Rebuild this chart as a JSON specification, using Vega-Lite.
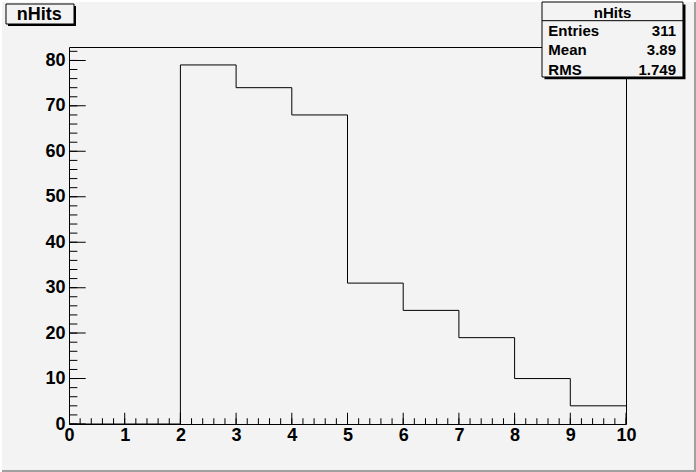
{
  "$schema": "https://vega.github.io/schema/vega-lite/v6.json",
  "width": 557,
  "height": 377,
  "autosize": {"type": "none"},
  "padding": {"left": 69, "top": 47, "right": 70, "bottom": 48},
  "background": "#f3f3f3",
  "config": {
    "view": {"stroke": "#000000", "strokeWidth": 1},
    "font": "Liberation Sans",
    "axis": {"labelFont": "Liberation Sans", "labelFontWeight": "bold", "labelFontSize": 18, "labelColor": "#000000", "ticks": false, "domain": false, "grid": false, "labelFlush": false, "labelOverlap": false}
  },
  "resolve": {"axis": {"x": "independent", "y": "independent"}},
  "data": {"values": [{}]},
  "datasets": {
    "hist": [
      {"lo": 0, "hi": 1, "count": 0},
      {"lo": 1, "hi": 2, "count": 0},
      {"lo": 2, "hi": 3, "count": 79},
      {"lo": 3, "hi": 4, "count": 74},
      {"lo": 4, "hi": 5, "count": 68},
      {"lo": 5, "hi": 6, "count": 31},
      {"lo": 6, "hi": 7, "count": 25},
      {"lo": 7, "hi": 8, "count": 19},
      {"lo": 8, "hi": 9, "count": 10},
      {"lo": 9, "hi": 10, "count": 4}
    ],
    "xmajor": [0, 1, 2, 3, 4, 5, 6, 7, 8, 9, 10],
    "xminor": [0, 0.2, 0.4, 0.6, 0.8, 1, 1.2, 1.4, 1.6, 1.8, 2, 2.2, 2.4, 2.6, 2.8, 3, 3.2, 3.4, 3.6, 3.8, 4, 4.2, 4.4, 4.6, 4.8, 5, 5.2, 5.4, 5.6, 5.8, 6, 6.2, 6.4, 6.6, 6.8, 7, 7.2, 7.4, 7.6, 7.8, 8, 8.2, 8.4, 8.6, 8.8, 9, 9.2, 9.4, 9.6, 9.8, 10],
    "ymajor": [0, 10, 20, 30, 40, 50, 60, 70, 80],
    "yminor": [0, 2, 4, 6, 8, 10, 12, 14, 16, 18, 20, 22, 24, 26, 28, 30, 32, 34, 36, 38, 40, 42, 44, 46, 48, 50, 52, 54, 56, 58, 60, 62, 64, 66, 68, 70, 72, 74, 76, 78, 80, 82]
  },
  "layer": [
    {
      "data": {"name": "hist"},
      "mark": {"type": "rule", "color": "#000000", "strokeWidth": 1},
      "encoding": {
        "x": {"field": "lo", "type": "quantitative", "title": null, "scale": {"domain": [0, 10], "nice": false, "zero": false},
              "axis": {"orient": "bottom", "values": [0, 1, 2, 3, 4, 5, 6, 7, 8, 9, 10], "labelPadding": 2, "format": "d", "ticks": false, "domain": false, "grid": false}},
        "x2": {"field": "hi"},
        "y": {"field": "count", "type": "quantitative", "title": null, "scale": {"domain": [0, 82.95], "nice": false, "zero": false},
              "axis": {"orient": "left", "values": [0, 10, 20, 30, 40, 50, 60, 70, 80], "labelPadding": 4, "format": "d", "ticks": false, "domain": false, "grid": false}}
      }
    },
    {
      "mark": {"type": "rect", "color": "#ffffff"},
      "encoding": {
        "x": {"datum": -1.2388, "type": "quantitative", "axis": null, "scale": {"domain": [0, 10], "nice": false, "zero": false}},
        "x2": {"datum": 11.257},
        "y": {"datum": 93.29, "type": "quantitative", "axis": null, "scale": {"domain": [0, 82.95], "nice": false, "zero": false}},
        "y2": {"datum": 92.85}
      }
    },
    {
      "mark": {"type": "rect", "color": "#ffffff"},
      "encoding": {
        "x": {"datum": -1.2388, "type": "quantitative", "axis": null, "scale": {"domain": [0, 10], "nice": false, "zero": false}},
        "x2": {"datum": -1.2029},
        "y": {"datum": 93.29, "type": "quantitative", "axis": null, "scale": {"domain": [0, 82.95], "nice": false, "zero": false}},
        "y2": {"datum": -10.56}
      }
    },
    {
      "mark": {"type": "rect", "color": "#a0a0a0"},
      "encoding": {
        "x": {"datum": 11.221, "type": "quantitative", "axis": null, "scale": {"domain": [0, 10], "nice": false, "zero": false}},
        "x2": {"datum": 11.257},
        "y": {"datum": 92.85, "type": "quantitative", "axis": null, "scale": {"domain": [0, 82.95], "nice": false, "zero": false}},
        "y2": {"datum": -10.56}
      }
    },
    {
      "mark": {"type": "rect", "color": "#a0a0a0"},
      "encoding": {
        "x": {"datum": -1.2029, "type": "quantitative", "axis": null, "scale": {"domain": [0, 10], "nice": false, "zero": false}},
        "x2": {"datum": 11.257},
        "y": {"datum": -10.121, "type": "quantitative", "axis": null, "scale": {"domain": [0, 82.95], "nice": false, "zero": false}},
        "y2": {"datum": -10.56}
      }
    },
    {
      "data": {"name": "hist"},
      "transform": [
        {"window": [{"op": "lag", "field": "count", "as": "prev"}], "sort": [{"field": "lo"}]},
        {"filter": "datum.prev != null"}
      ],
      "mark": {"type": "rule", "color": "#000000", "strokeWidth": 1},
      "encoding": {
        "x": {"field": "lo", "type": "quantitative", "axis": null, "scale": {"domain": [0, 10], "nice": false, "zero": false}},
        "y": {"field": "count", "type": "quantitative", "axis": null, "scale": {"domain": [0, 82.95], "nice": false, "zero": false}},
        "y2": {"field": "prev"}
      }
    },
    {
      "data": {"name": "xmajor"},
      "mark": {"type": "tick", "orient": "vertical", "size": 22.6, "thickness": 1, "color": "#000000", "opacity": 1, "clip": true},
      "encoding": {
        "x": {"field": "data", "type": "quantitative", "axis": null, "scale": {"domain": [0, 10], "nice": false, "zero": false}},
        "y": {"datum": 0, "type": "quantitative", "axis": null, "scale": {"domain": [0, 82.95], "nice": false, "zero": false}}
      }
    },
    {
      "data": {"name": "xminor"},
      "mark": {"type": "tick", "orient": "vertical", "size": 11.3, "thickness": 1, "color": "#000000", "opacity": 1, "clip": true},
      "encoding": {
        "x": {"field": "data", "type": "quantitative", "axis": null, "scale": {"domain": [0, 10], "nice": false, "zero": false}},
        "y": {"datum": 0, "type": "quantitative", "axis": null, "scale": {"domain": [0, 82.95], "nice": false, "zero": false}}
      }
    },
    {
      "data": {"name": "ymajor"},
      "mark": {"type": "tick", "orient": "horizontal", "size": 33.4, "thickness": 1, "color": "#000000", "opacity": 1, "clip": true},
      "encoding": {
        "y": {"field": "data", "type": "quantitative", "axis": null, "scale": {"domain": [0, 82.95], "nice": false, "zero": false}},
        "x": {"datum": 0, "type": "quantitative", "axis": null, "scale": {"domain": [0, 10], "nice": false, "zero": false}}
      }
    },
    {
      "data": {"name": "yminor"},
      "mark": {"type": "tick", "orient": "horizontal", "size": 16.7, "thickness": 1, "color": "#000000", "opacity": 1, "clip": true},
      "encoding": {
        "y": {"field": "data", "type": "quantitative", "axis": null, "scale": {"domain": [0, 82.95], "nice": false, "zero": false}},
        "x": {"datum": 0, "type": "quantitative", "axis": null, "scale": {"domain": [0, 10], "nice": false, "zero": false}}
      }
    },
    {
      "mark": {"type": "rect", "color": "#000000"},
      "encoding": {
        "x": {"datum": -1.0952, "type": "quantitative", "axis": null, "scale": {"domain": [0, 10], "nice": false, "zero": false}},
        "x2": {"datum": 0.1257},
        "y": {"datum": 91.97, "type": "quantitative", "axis": null, "scale": {"domain": [0, 82.95], "nice": false, "zero": false}},
        "y2": {"datum": 87.57}
      }
    },
    {
      "mark": {"type": "rect", "fill": "#f3f3f3", "stroke": "#000000", "strokeWidth": 1},
      "encoding": {
        "x": {"datum": -1.1311, "type": "quantitative", "axis": null, "scale": {"domain": [0, 10], "nice": false, "zero": false}},
        "x2": {"datum": 0.0898},
        "y": {"datum": 92.41, "type": "quantitative", "axis": null, "scale": {"domain": [0, 82.95], "nice": false, "zero": false}},
        "y2": {"datum": 88.01}
      }
    },
    {
      "mark": {"type": "text", "align": "center", "baseline": "middle", "font": "Liberation Sans", "fontWeight": "bold", "fontSize": 18, "color": "#000000"},
      "encoding": {
        "x": {"datum": -0.535, "type": "quantitative", "axis": null, "scale": {"domain": [0, 10], "nice": false, "zero": false}},
        "y": {"datum": 90.10, "type": "quantitative", "axis": null, "scale": {"domain": [0, 82.95], "nice": false, "zero": false}},
        "text": {"value": "nHits"}
      }
    },
    {
      "mark": {"type": "rect", "color": "#000000"},
      "encoding": {
        "x": {"datum": 8.537, "type": "quantitative", "axis": null, "scale": {"domain": [0, 10], "nice": false, "zero": false}},
        "x2": {"datum": 11.068},
        "y": {"datum": 92.30, "type": "quantitative", "axis": null, "scale": {"domain": [0, 82.95], "nice": false, "zero": false}},
        "y2": {"datum": 75.84}
      }
    },
    {
      "mark": {"type": "rect", "fill": "#f3f3f3", "stroke": "#000000", "strokeWidth": 1},
      "encoding": {
        "x": {"datum": 8.492, "type": "quantitative", "axis": null, "scale": {"domain": [0, 10], "nice": false, "zero": false}},
        "x2": {"datum": 11.023},
        "y": {"datum": 92.85, "type": "quantitative", "axis": null, "scale": {"domain": [0, 82.95], "nice": false, "zero": false}},
        "y2": {"datum": 76.35}
      }
    },
    {
      "mark": {"type": "rule", "color": "#000000", "strokeWidth": 1},
      "encoding": {
        "x": {"datum": 8.492, "type": "quantitative", "axis": null, "scale": {"domain": [0, 10], "nice": false, "zero": false}},
        "x2": {"datum": 11.023},
        "y": {"datum": 88.74, "type": "quantitative", "axis": null, "scale": {"domain": [0, 82.95], "nice": false, "zero": false}}
      }
    },
    {
      "mark": {"type": "text", "align": "center", "baseline": "middle", "font": "Liberation Sans", "fontWeight": "bold", "fontSize": 15, "color": "#000000"},
      "encoding": {
        "x": {"datum": 9.758, "type": "quantitative", "axis": null, "scale": {"domain": [0, 10], "nice": false, "zero": false}},
        "y": {"datum": 90.48, "type": "quantitative", "axis": null, "scale": {"domain": [0, 82.95], "nice": false, "zero": false}},
        "text": {"value": "nHits"}
      }
    },
    {
      "mark": {"type": "text", "align": "left", "baseline": "middle", "lineHeight": 19.5, "font": "Liberation Sans", "fontWeight": "bold", "fontSize": 15, "color": "#000000"},
      "encoding": {
        "x": {"datum": 8.605, "type": "quantitative", "axis": null, "scale": {"domain": [0, 10], "nice": false, "zero": false}},
        "y": {"datum": 86.58, "type": "quantitative", "axis": null, "scale": {"domain": [0, 82.95], "nice": false, "zero": false}},
        "text": {"value": ["Entries", "Mean", "RMS"]}
      }
    },
    {
      "mark": {"type": "text", "align": "right", "baseline": "middle", "lineHeight": 19.5, "font": "Liberation Sans", "fontWeight": "bold", "fontSize": 15, "color": "#000000"},
      "encoding": {
        "x": {"datum": 10.898, "type": "quantitative", "axis": null, "scale": {"domain": [0, 10], "nice": false, "zero": false}},
        "y": {"datum": 86.58, "type": "quantitative", "axis": null, "scale": {"domain": [0, 82.95], "nice": false, "zero": false}},
        "text": {"value": ["311", "3.89", "1.749"]}
      }
    }
  ]
}
